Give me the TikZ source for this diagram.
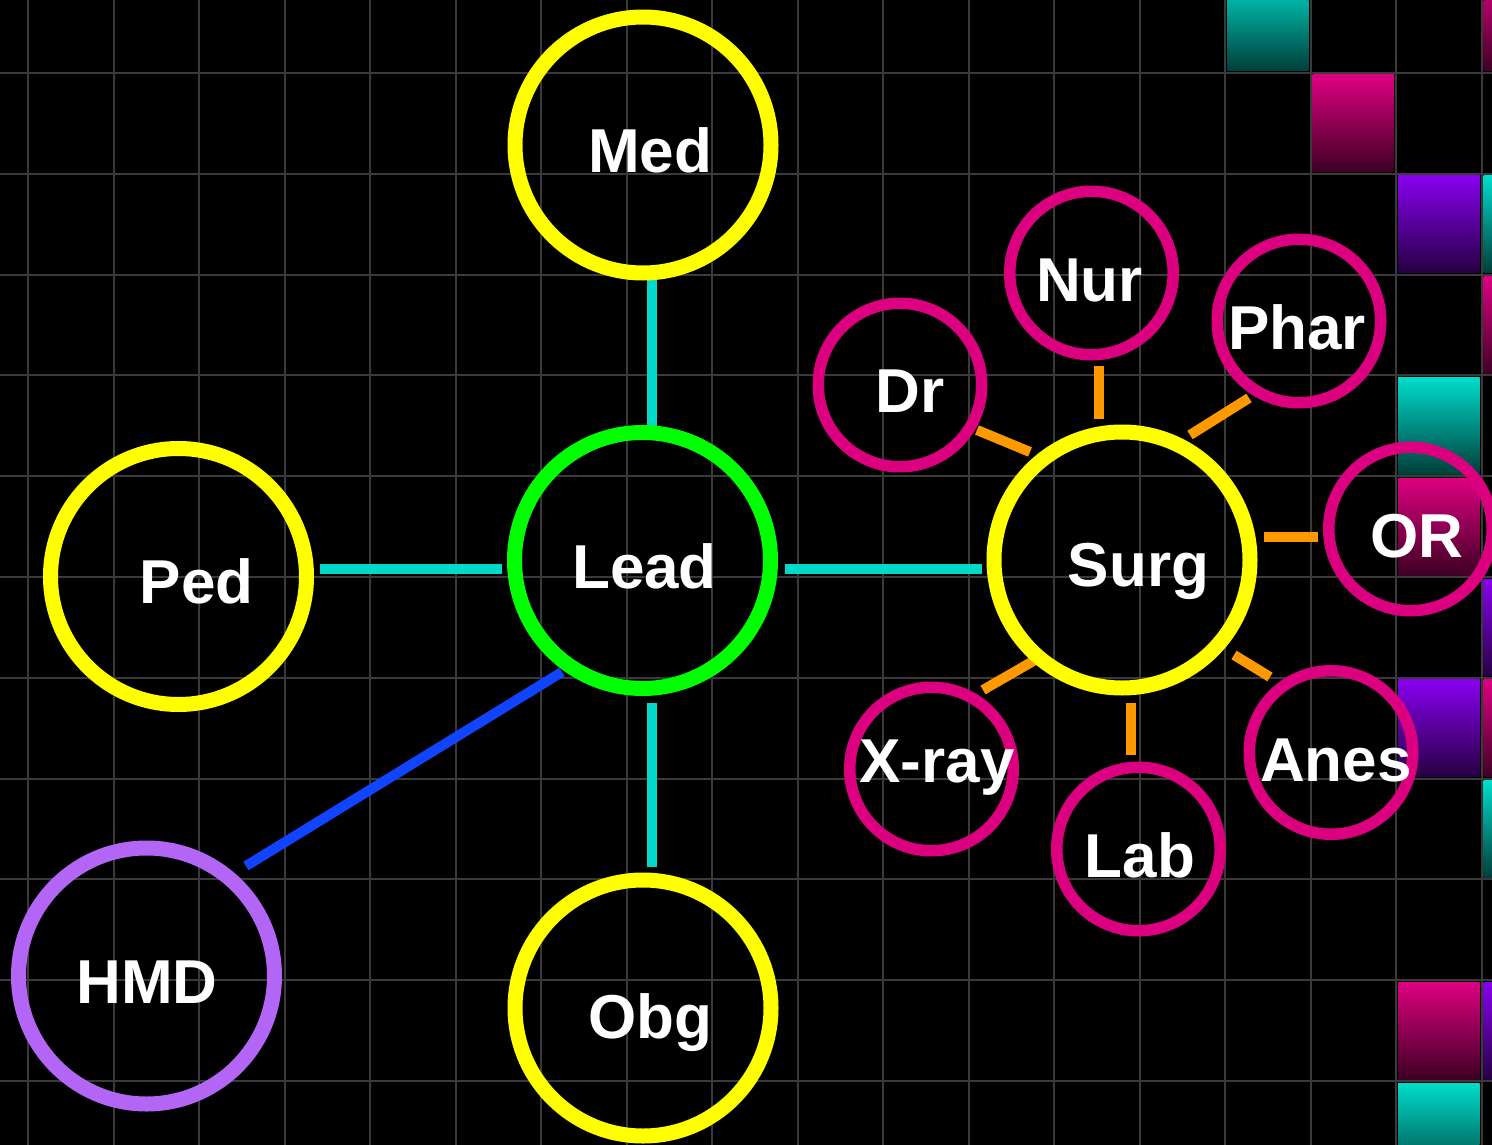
\documentclass[tikz,border=0pt]{standalone}
\usepackage{fontspec}
\setmainfont{Liberation Sans}
\usetikzlibrary{calc,backgrounds}
\definecolor{gridc}{HTML}{3A3A3A}
\definecolor{cyel}{HTML}{FFFF00}
\definecolor{cgreen}{HTML}{00FF00}
\definecolor{cpurp}{HTML}{B366F5}
\definecolor{cmag}{HTML}{DC0080}
\definecolor{cteal}{HTML}{00D9C9}
\definecolor{cblue}{HTML}{1144FF}
\definecolor{corange}{HTML}{FF9900}
\definecolor{sqteal}{HTML}{00DDCC}
\definecolor{sqmag}{HTML}{DD0080}
\definecolor{sqpurp}{HTML}{8800EE}
\begin{document}
\begin{tikzpicture}[x=1pt,y=-1pt,
  big/.style={circle,draw,line width=15pt,minimum size=256pt,inner sep=0pt},
  small/.style={circle,draw=cmag,line width=11.5pt,minimum size=163.5pt,inner sep=0pt},
  lbl/.style={anchor=base,text=white,font=\fontsize{62}{62}\selectfont\bfseries,inner sep=0pt},
  tealline/.style={draw=cteal,line width=10pt},
  blueline/.style={draw=cblue,line width=10pt},
  spoke/.style={draw=corange,line width=10pt},
  gridline/.style={draw=gridc,line width=2pt},
]
\useasboundingbox (0,0) rectangle (1492,1145);

% circles
\node[big,draw=cyel] (med) at (643,145) {};
\node[big,draw=cgreen] (lead) at (642.5,560.5) {};
\node[big,draw=cyel] (ped) at (178.5,576.5) {};
\node[big,draw=cyel] (obg) at (643,1008) {};
\node[big,draw=cpurp] (hmd) at (146.5,976) {};
\node[big,draw=cyel] (surg) at (1122,560) {};
\node[small] (dr) at (900,385) {};
\node[small] (nur) at (1091.5,273) {};
\node[small] (phar) at (1299,321) {};
\node[small] (or) at (1410.5,529) {};
\node[small] (anes) at (1331,752.5) {};
\node[small] (lab) at (1138.5,849) {};
\node[small] (xray) at (931.5,769) {};

% labels
\node[lbl] (medT) at (650,173) {Med};
\node[lbl] (leadT) at (644.5,588) {Lead};
\node[lbl] (pedT) at (196.7,603) {Ped};
\node[lbl] (obgT) at (650,1038) {Obg};
\node[lbl] (hmdT) at (147,1003) {HMD};
\node[lbl] (surgT) at (1138.5,586) {Surg};
\node[lbl] (drT) at (910,412) {Dr};
\node[lbl] (nurT) at (1089.5,301) {Nur};
\node[lbl] (pharT) at (1297,349) {Phar};
\node[lbl] (orT) at (1417,557) {OR};
\node[lbl] (anesT) at (1336,781) {Anes};
\node[lbl] (labT) at (1140,877) {Lab};
\node[lbl] (xrayT) at (937,782) {X-ray};

\begin{pgfonlayer}{background}
\fill[black] (0,0) rectangle (1492,1145);
% gradient cells
\foreach \c/\r/\col in {14/-1/sqteal,17/-1/sqmag,15/0/sqmag,16/1/sqpurp,17/1/sqteal,17/2/sqmag,16/3/sqteal,16/4/sqmag,17/5/sqpurp,16/6/sqpurp,17/6/sqmag,17/7/sqteal,16/9/sqmag,17/9/sqpurp,16/10/sqteal}
  \shade[top color=\col, bottom color=\col!28!black]
    ({28+85.5*\c+2},{73+100.8*\r+2}) rectangle ({28+85.5*(\c+1)-2},{73+100.8*(\r+1)-2});
% grid
\foreach \i in {0,...,17}
  \draw[gridline] ({28+85.5*\i},0) -- ({28+85.5*\i},1145);
\foreach \j in {0,...,10}
  \draw[gridline] (0,{73+100.8*\j}) -- (1492,{73+100.8*\j});
% connectors
\draw[tealline] ($(med)+(9,132)$) -- ($(lead)+(9.5,-130.5)$);
\draw[tealline] ($(lead)+(9.5,142.5)$) -- ($(obg)+(9,-141)$);
\draw[tealline] ($(ped)+(141.5,-7.5)$) -- ($(lead)+(-140.5,8.5)$);
\draw[tealline] ($(lead)+(142.5,8.5)$) -- ($(surg)+(-140,9)$);
\draw[blueline] ($(lead)+(-80.5,111.5)$) -- ($(hmd)+(99.5,-110)$);
\draw[spoke] ($(surg)+(-92,-108)$) -- ($(dr)+(77,45)$);
\draw[spoke] ($(surg)+(-23,-141)$) -- ($(nur)+(7.5,93)$);
\draw[spoke] ($(surg)+(68,-125)$) -- ($(phar)+(-50,77)$);
\draw[spoke] ($(surg)+(142,-23)$) -- ($(or)+(-92.5,8)$);
\draw[spoke] ($(surg)+(112,95)$) -- ($(anes)+(-61,-75.5)$);
\draw[spoke] ($(surg)+(9,143)$) -- ($(lab)+(-7.5,-94)$);
\draw[spoke] ($(surg)+(-80,96)$) -- ($(xray)+(51.5,-79)$);
\end{pgfonlayer}
\end{tikzpicture}
\end{document}
